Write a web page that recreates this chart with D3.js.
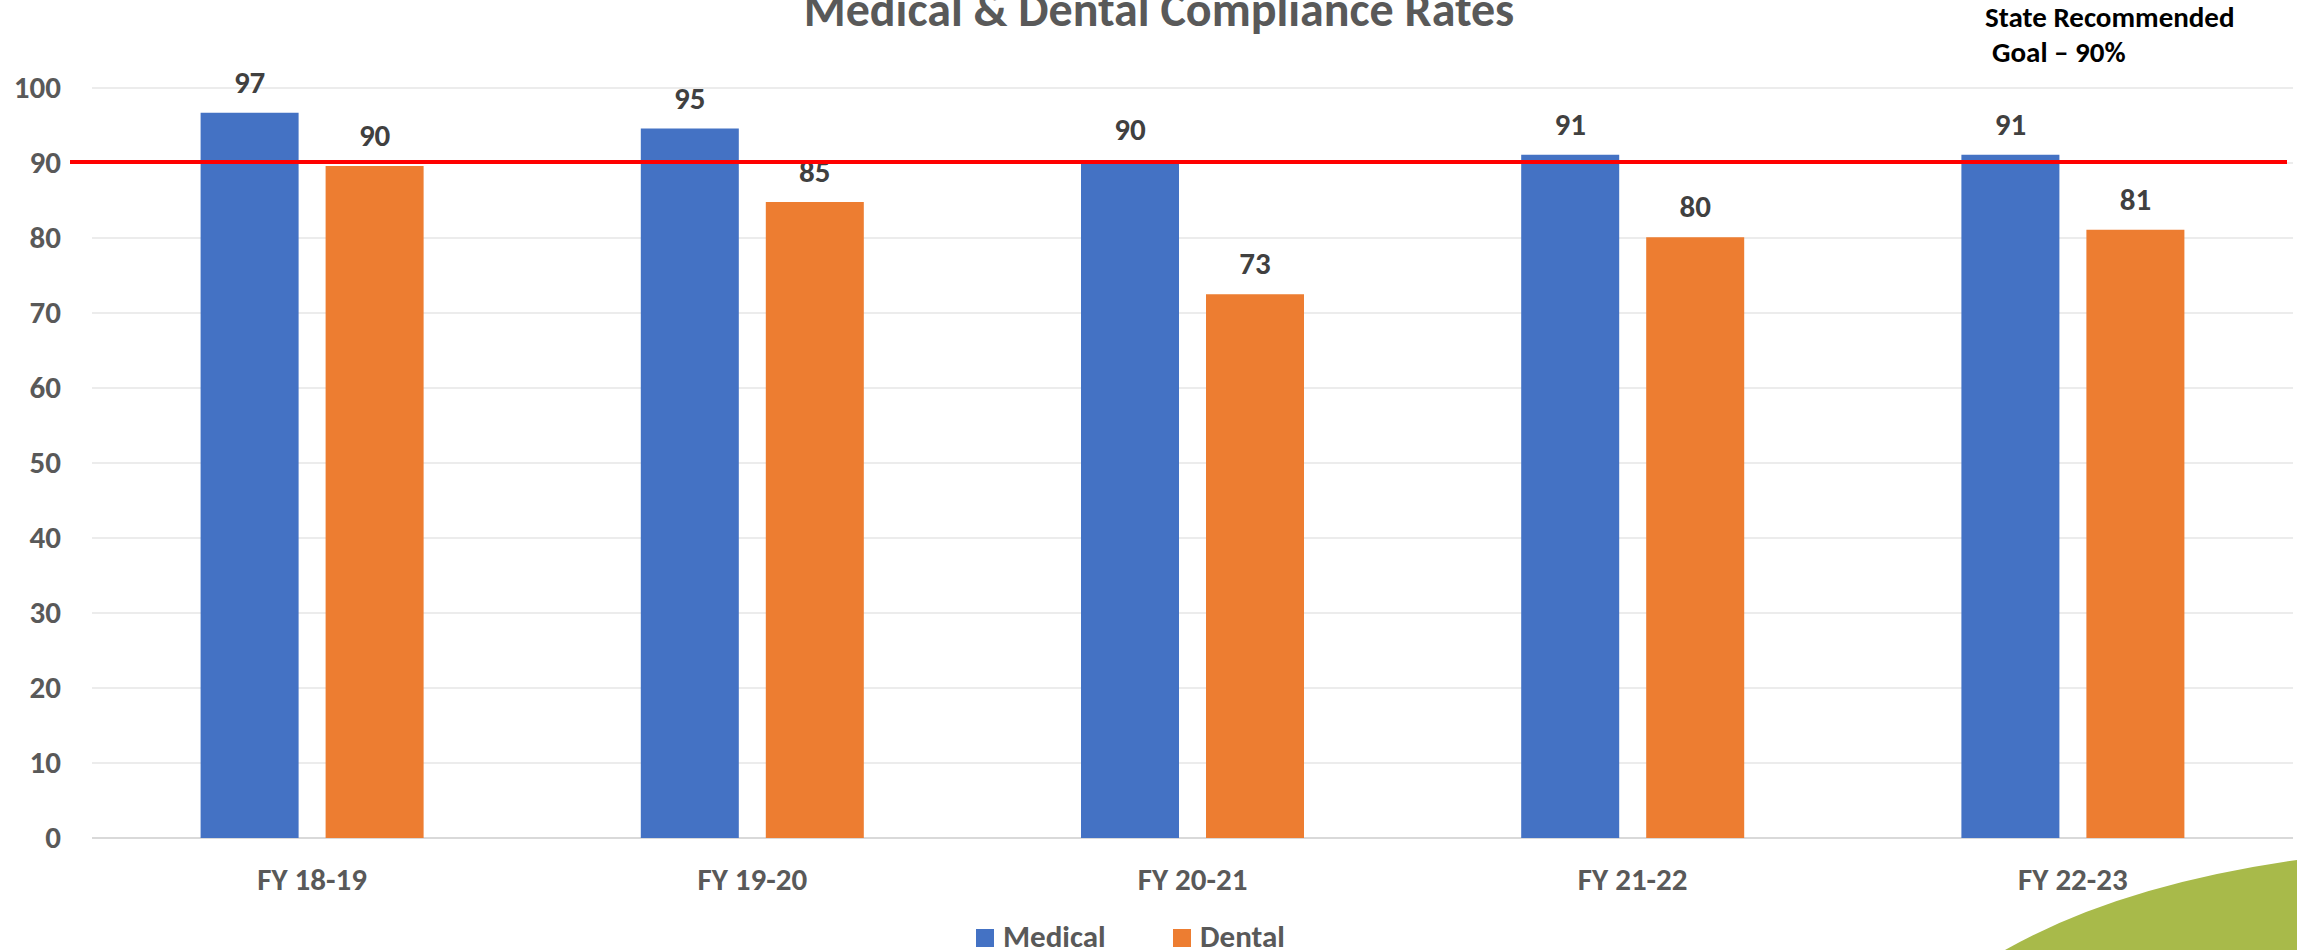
<!DOCTYPE html>
<html>
<head>
<meta charset="utf-8">
<script src="https://cdn.jsdelivr.net/npm/d3@7"></script>
<style>
  body { margin: 0; background: #fff; }
  svg { display: block; }
</style>
</head>
<body>
<svg class="chart" width="2297" height="950"></svg>
<script>
// Medical & Dental compliance bar chart

var categories = ["FY 18-19", "FY 19-20", "FY 20-21", "FY 21-22", "FY 22-23"];
var series = ["Medical", "Dental"];
var medical = [96.7, 94.6, 90.4, 91.1, 91.1];
var dental = [89.6, 84.8, 72.5, 80.1, 81.1];
var yTicks = [0, 10, 20, 30, 40, 50, 60, 70, 80, 90, 100];
var goal = 90;

var colors = { Medical: "#4472C4", Dental: "#ED7D31" };
var font = "Carlito, 'Open Sans', sans-serif";

var svg = d3.select(".chart");

var plotLeft = 92, plotRight = 2293, plotTop = 88, plotBottom = 838;

var x0 = d3.scaleBand()
    .domain(categories)
    .range([plotLeft, plotRight]);

var groupW = 223;
var x1 = d3.scaleBand()
    .domain(series)
    .range([0, groupW])
    .paddingInner(0.216);

var y = d3.scaleLinear()
    .domain([0, 100])
    .range([plotBottom, plotTop]);

// title (cut off at top in the original)
svg.append("text")
    .attr("x", 1159)
    .attr("y", 26)
    .attr("text-anchor", "middle")
    .attr("font-family", font)
    .attr("font-weight", "bold")
    .attr("font-size", "48px")
    .attr("fill", "#595959")
    .text("Medical & Dental Compliance Rates");

// gridlines
svg.selectAll(".grid")
    .data(yTicks)
    .enter().append("line")
    .attr("class", "grid")
    .attr("x1", plotLeft)
    .attr("x2", plotRight)
    .attr("y1", d => y(d))
    .attr("y2", d => y(d))
    .attr("stroke", "#d9d9d9")
    .attr("stroke-width", d => d === 0 ? 2 : 1);

// y axis labels
var yAxis = svg.append("g")
    .attr("transform", "translate(61,0)")
    .call(d3.axisLeft(y).tickValues(yTicks).tickSize(0).tickPadding(0));
yAxis.select(".domain").remove();
yAxis.selectAll("text")
    .attr("font-family", font)
    .attr("font-weight", "bold")
    .attr("font-size", "31px")
    .attr("fill", "#595959");

// x axis labels
var xAxis = svg.append("g")
    .attr("transform", "translate(0," + plotBottom + ")")
    .call(d3.axisBottom(x0).tickSize(0).tickPadding(0));
xAxis.select(".domain").remove();
xAxis.selectAll("text")
    .attr("dy", null)
    .attr("y", 52)
    .attr("font-family", font)
    .attr("font-weight", "bold")
    .attr("font-size", "31px")
    .attr("fill", "#595959");

var rows = categories.map((c, i) => ({ cat: c, Medical: medical[i], Dental: dental[i] }));

var groups = svg.selectAll(".group")
    .data(rows)
    .enter().append("g")
    .attr("class", "group")
    .attr("transform", d => "translate(" + (x0(d.cat) + (x0.bandwidth() - groupW) / 2) + ",0)");

groups.selectAll("rect")
    .data(d => series.map(s => ({ key: s, value: d[s] })))
    .enter().append("rect")
    .attr("x", d => x1(d.key))
    .attr("y", d => y(d.value))
    .attr("width", x1.bandwidth())
    .attr("height", d => y(0) - y(d.value))
    .attr("fill", d => colors[d.key]);

groups.selectAll(".val")
    .data(d => series.map(s => ({ key: s, value: d[s] })))
    .enter().append("text")
    .attr("class", "val")
    .attr("x", d => x1(d.key) + x1.bandwidth() / 2)
    .attr("y", d => y(d.value) - 20)
    .attr("text-anchor", "middle")
    .attr("font-family", font)
    .attr("font-weight", "bold")
    .attr("font-size", "31px")
    .attr("fill", "#404040")
    .text(d => Math.round(d.value));

// goal line
svg.append("line")
    .attr("x1", 70)
    .attr("x2", 2287)
    .attr("y1", y(goal) - 1)
    .attr("y2", y(goal) - 1)
    .attr("stroke", "#FF0000")
    .attr("stroke-width", 4);

var note = svg.append("text")
    .attr("font-family", font)
    .attr("font-weight", "bold")
    .attr("font-size", "29px")
    .attr("fill", "#000");
note.append("tspan").attr("x", 1985).attr("y", 27).text("State Recommended");
note.append("tspan").attr("x", 1992).attr("y", 62).text("Goal \u2013 " + goal + "%");

// legend
var legend = svg.selectAll(".legend")
    .data(series)
    .enter().append("g")
    .attr("class", "legend")
    .attr("transform", (d, i) => "translate(" + (976 + i * 197) + ",929)");
legend.append("rect")
    .attr("width", 18)
    .attr("height", 18)
    .attr("fill", d => colors[d]);
legend.append("text")
    .attr("x", 27)
    .attr("y", 18)
    .attr("font-family", font)
    .attr("font-weight", "bold")
    .attr("font-size", "31px")
    .attr("fill", "#595959")
    .text(d => d);

// green decorative swoosh bottom right
svg.append("path")
    .attr("d", "M2005,950 Q2120,885 2297,860 L2297,950 Z")
    .attr("fill", "#A8BA4A");
</script>
</body>
</html>
